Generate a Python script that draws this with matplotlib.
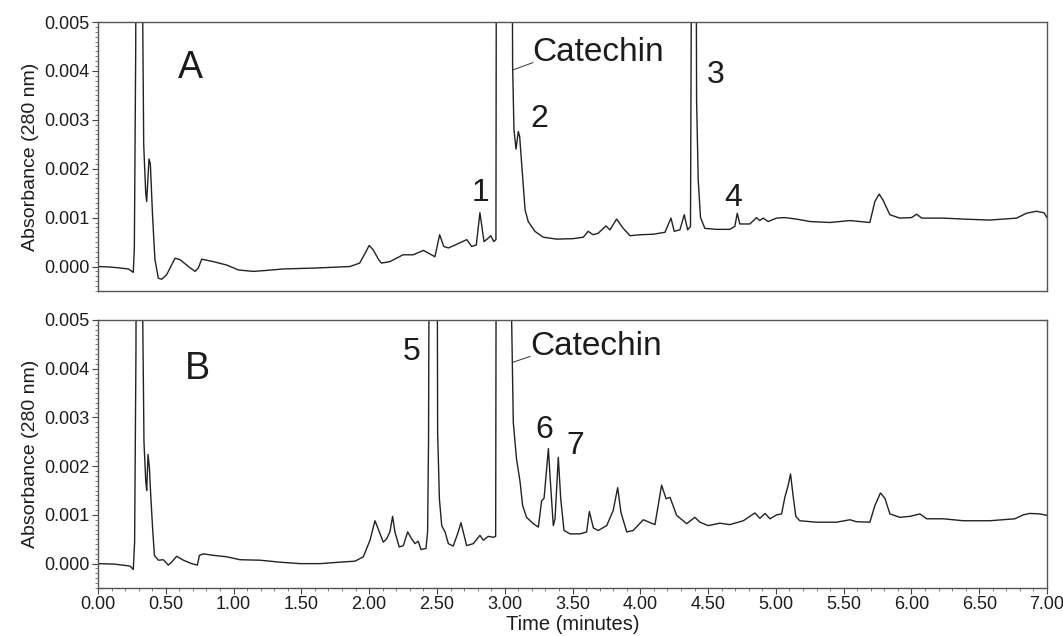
import matplotlib
matplotlib.use('Agg')
import matplotlib.pyplot as plt
from matplotlib.ticker import MultipleLocator, FormatStrFormatter

plt.rcParams['font.family'] = ['Liberation Sans', 'DejaVu Sans']

# trace A (time in minutes, absorbance at 280 nm)
time_a = [0.00, 0.086, 0.162, 0.224, 0.26, 0.268, 0.278, 0.30, 0.33, 0.337, 0.352, 0.359, 0.376, 0.386,
          0.403, 0.420, 0.445, 0.47, 0.506, 0.568, 0.605, 0.667, 0.716, 0.74, 0.765, 0.85, 0.95, 1.035,
          1.145, 1.24, 1.367, 1.613, 1.785, 1.858, 1.93, 1.97, 2.00, 2.03, 2.07, 2.09, 2.153, 2.25, 2.325,
          2.40, 2.44, 2.485, 2.52, 2.55, 2.585, 2.634, 2.72, 2.756, 2.79, 2.817, 2.847, 2.87, 2.896, 2.92,
          2.935, 2.945, 3.00, 3.05, 3.058, 3.068, 3.083, 3.10, 3.11, 3.132, 3.15, 3.173, 3.222, 3.284,
          3.382, 3.505, 3.58, 3.615, 3.652, 3.689, 3.746, 3.776, 3.825, 3.874, 3.924, 3.998, 4.096, 4.182,
          4.226, 4.25, 4.292, 4.324, 4.349, 4.37, 4.385, 4.40, 4.415, 4.427, 4.444, 4.476, 4.562, 4.66,
          4.697, 4.715, 4.734, 4.808, 4.857, 4.88, 4.906, 4.943, 5.004, 5.066, 5.152, 5.25, 5.398, 5.546,
          5.693, 5.73, 5.762, 5.79, 5.84, 5.914, 6.0, 6.038, 6.075, 6.234, 6.382, 6.578, 6.775, 6.849,
          6.922, 6.977, 7.0]
abs_a = [0.0, -0.00001, -0.00003, -0.00005, -0.00012, 0.00037, 0.0044, 0.03, 0.005, 0.0025, 0.0015, 0.00133,
         0.0022, 0.0021, 0.001, 0.00014, -0.00024, -0.00026, -0.00017, 0.00017, 0.00014, 0.0, -0.0001,
         -0.00003, 0.00015, 0.0001, 0.00003, -0.00007, -0.0001, -0.00008, -0.00005, -0.00003, -0.00001,
         0.0, 0.00007, 0.00027, 0.00043, 0.00034, 0.00014, 0.00007, 0.0001, 0.00024, 0.00024, 0.00033,
         0.00027, 0.0002, 0.00065, 0.00041, 0.00038, 0.00044, 0.00055, 0.00041, 0.00044, 0.0011, 0.00051,
         0.00056, 0.00063, 0.00051, 0.00055, 0.02, 0.04, 0.012, 0.0041, 0.0028, 0.0024, 0.00276, 0.00266,
         0.00184, 0.00116, 0.00092, 0.00072, 0.0006, 0.00056, 0.00057, 0.0006, 0.00072, 0.00065, 0.00068,
         0.00083, 0.00075, 0.00097, 0.00078, 0.00063, 0.00065, 0.00066, 0.0007, 0.00099, 0.00072, 0.00075,
         0.00106, 0.00075, 0.00082, 0.012, 0.02, 0.0034, 0.00177, 0.001, 0.00078, 0.00076, 0.00076,
         0.00082, 0.00109, 0.00087, 0.00087, 0.001, 0.00094, 0.00099, 0.00092, 0.00099, 0.001, 0.00097,
         0.00092, 0.0009, 0.00094, 0.0009, 0.00133, 0.00148, 0.00136, 0.00106, 0.00099, 0.001, 0.00107,
         0.00099, 0.00099, 0.00097, 0.00095, 0.00099, 0.00109, 0.00113, 0.0011, 0.001]

# trace B
time_b = [0.00, 0.12, 0.236, 0.26, 0.27, 0.28, 0.30, 0.33, 0.339, 0.352, 0.359, 0.369, 0.379, 0.389, 0.403,
          0.416, 0.445, 0.482, 0.518, 0.543, 0.58, 0.63, 0.69, 0.733, 0.748, 0.777, 0.85, 0.95, 1.047,
          1.195, 1.34, 1.49, 1.64, 1.785, 1.895, 1.957, 2.006, 2.043, 2.067, 2.104, 2.129, 2.153, 2.173,
          2.19, 2.222, 2.252, 2.284, 2.313, 2.338, 2.362, 2.382, 2.419, 2.431, 2.438, 2.448, 2.47, 2.498,
          2.505, 2.518, 2.535, 2.56, 2.584, 2.62, 2.657, 2.677, 2.70, 2.719, 2.768, 2.817, 2.842, 2.879,
          2.916, 2.933, 2.945, 3.00, 3.048, 3.063, 3.087, 3.112, 3.132, 3.161, 3.21, 3.248, 3.272, 3.29,
          3.322, 3.334, 3.358, 3.371, 3.395, 3.413, 3.437, 3.482, 3.555, 3.604, 3.624, 3.654, 3.69, 3.752,
          3.80, 3.833, 3.857, 3.90, 3.947, 4.022, 4.108, 4.157, 4.19, 4.219, 4.268, 4.342, 4.402, 4.44,
          4.50, 4.587, 4.66, 4.76, 4.845, 4.882, 4.92, 4.956, 5.005, 5.042, 5.066, 5.09, 5.108, 5.127,
          5.147, 5.176, 5.299, 5.447, 5.546, 5.594, 5.693, 5.73, 5.771, 5.804, 5.841, 5.914, 5.988, 6.062,
          6.112, 6.234, 6.382, 6.578, 6.763, 6.824, 6.873, 6.947, 7.0]
abs_b = [0.0, -0.00001, -0.00005, -0.00012, 0.00044, 0.0044, 0.03, 0.005, 0.0025, 0.0017, 0.0015, 0.00224,
         0.00197, 0.0014, 0.00071, 0.00017, 0.00007, 0.00008, -0.00003, 0.00003, 0.00015, 0.00007, 0.0,
         -0.00003, 0.00017, 0.0002, 0.00017, 0.00014, 0.00008, 0.00007, 0.00003, 0.0, 0.0, 0.00003,
         0.00005, 0.00014, 0.00048, 0.00088, 0.00071, 0.00044, 0.00051, 0.00065, 0.00097, 0.00065,
         0.00034, 0.00037, 0.00065, 0.00051, 0.00041, 0.00046, 0.00029, 0.00031, 0.00065, 0.00255, 0.012,
         0.03, 0.012, 0.0027, 0.00133, 0.00078, 0.00065, 0.00041, 0.00036, 0.00065, 0.00084, 0.00058,
         0.00037, 0.00041, 0.00058, 0.00048, 0.00056, 0.00054, 0.00056, 0.02, 0.04, 0.0055, 0.0029,
         0.00214, 0.0017, 0.00119, 0.00095, 0.00082, 0.00075, 0.00129, 0.00134, 0.00236, 0.0018, 0.00078,
         0.00092, 0.00218, 0.00133, 0.00068, 0.00061, 0.00061, 0.00065, 0.00107, 0.00073, 0.00068,
         0.00078, 0.00109, 0.00156, 0.00105, 0.00065, 0.00068, 0.0009, 0.0008, 0.00161, 0.00133, 0.00136,
         0.00099, 0.00082, 0.00095, 0.00085, 0.00078, 0.00083, 0.0008, 0.00088, 0.00104, 0.00093, 0.00103,
         0.00092, 0.001, 0.00102, 0.00136, 0.0016, 0.00184, 0.00139, 0.00097, 0.00088, 0.00085, 0.00085,
         0.0009, 0.00086, 0.00085, 0.00119, 0.00145, 0.00134, 0.00102, 0.00095, 0.00097, 0.00102, 0.00092,
         0.00092, 0.00088, 0.00088, 0.00092, 0.001, 0.00103, 0.00102, 0.00099]

# peak labels: (text, time, absorbance)
labels_a = [('1', 2.755, 0.00133), ('2', 3.186, 0.00285), ('3', 4.49, 0.00375), ('4', 4.62, 0.00123)]
labels_b = [('5', 2.25, 0.00418), ('6', 3.228, 0.00258), ('7', 3.456, 0.00224)]

ink = '#1c1c1c'
fig = plt.figure(figsize=(10.63, 6.36), dpi=100)
ax_a = fig.add_axes([0.0922, 0.5425, 0.8928, 0.4229])
ax_b = fig.add_axes([0.0922, 0.0755, 0.8928, 0.4214])

for ax, t, a in [(ax_a, time_a, abs_a), (ax_b, time_b, abs_b)]:
    ax.plot(t, a, color='#222222', lw=1.0)
    ax.set_xlim(0, 7)
    ax.set_ylim(-0.0005, 0.005)
    ax.yaxis.set_major_locator(MultipleLocator(0.001))
    ax.yaxis.set_minor_locator(MultipleLocator(0.0001))
    ax.yaxis.set_major_formatter(FormatStrFormatter('%.3f'))
    ax.xaxis.set_major_locator(MultipleLocator(0.5))
    ax.xaxis.set_minor_locator(MultipleLocator(0.1))
    ax.xaxis.set_major_formatter(FormatStrFormatter('%.2f'))
    ax.tick_params(which='major', length=4, width=0.8, color='#444444', labelsize=13, labelcolor=ink, pad=2)
    ax.tick_params(which='minor', length=2, width=0.6, color='#666666')
    for s in ax.spines.values():
        s.set_color('#555555')
        s.set_linewidth(1.0)
    ax.set_ylabel('Absorbance (280 nm)', fontsize=14, color=ink, labelpad=4)

ax_a.tick_params(axis='x', which='both', bottom=False, labelbottom=False)
ax_b.set_xlabel('Time (minutes)', fontsize=14.5, color=ink, labelpad=1)

ax_a.text(0.68, 0.00406, 'A', fontsize=27, color=ink, ha='center', va='center')
ax_b.text(0.734, 0.00378, 'B', fontsize=27, color=ink, ha='center', va='baseline')

ax_a.text(3.2, 0.0042, 'Catechin', fontsize=24, color=ink, ha='left', va='baseline')
ax_a.plot([3.208, 3.06], [0.00417, 0.00402], color='#333333', lw=0.7)
ax_b.text(3.19, 0.00429, 'Catechin', fontsize=24, color=ink, ha='left', va='baseline')
ax_b.plot([3.186, 3.058], [0.00425, 0.00413], color='#333333', lw=0.7)

for ax, labs in [(ax_a, labels_a), (ax_b, labels_b)]:
    for txt, x, y in labs:
        ax.text(x, y, txt, fontsize=23, color=ink, ha='left', va='baseline')

plt.savefig('out.png', dpi=100)
